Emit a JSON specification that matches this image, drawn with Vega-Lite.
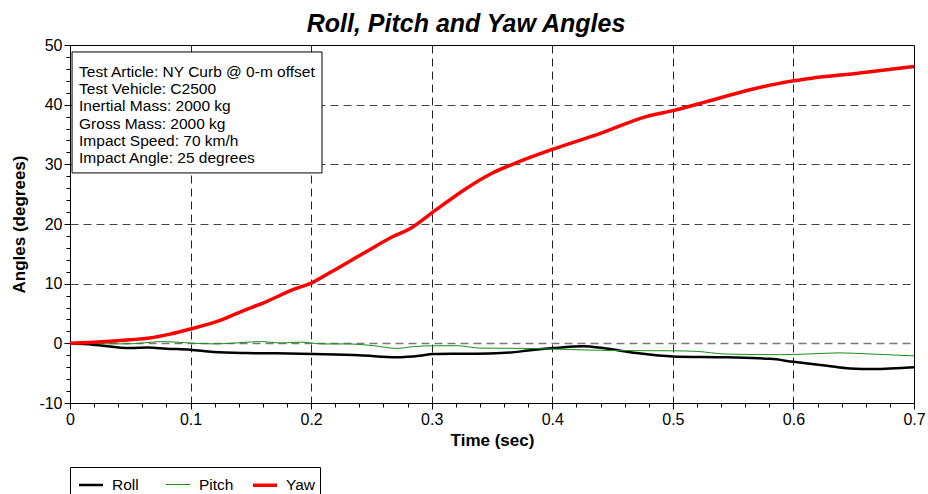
{
  "$schema": "https://vega.github.io/schema/vega-lite/v6.json",
  "autosize": {"type": "none"},
  "width": 844,
  "height": 358,
  "padding": {"left": 70, "top": 45, "right": 14, "bottom": 91},
  "background": "white",
  "title": {"text": "Roll, Pitch and Yaw Angles", "font": "Liberation Sans", "fontSize": 25, "fontWeight": "bold", "fontStyle": "italic", "color": "black", "offset": 0, "dx": -26},
  "config": {
    "view": {"stroke": "black", "strokeWidth": 1},
    "axis": {"domainColor": "black", "tickColor": "black", "labelColor": "black", "titleColor": "black", "labelFont": "Liberation Sans", "titleFont": "Liberation Sans", "labelFontSize": 16, "titleFontSize": 17, "titleFontWeight": "bold", "labelOverlap": false},
    "legend": {"labelFont": "Liberation Sans"}
  },
  "datasets": {
    "angles": [
      {"t": 0, "v": 0, "series": "Roll"},
      {"t": 0.019, "v": -0.23, "series": "Roll"},
      {"t": 0.05, "v": -0.8, "series": "Roll"},
      {"t": 0.065, "v": -0.7, "series": "Roll"},
      {"t": 0.08, "v": -0.9, "series": "Roll"},
      {"t": 0.1, "v": -1.07, "series": "Roll"},
      {"t": 0.119, "v": -1.46, "series": "Roll"},
      {"t": 0.146, "v": -1.63, "series": "Roll"},
      {"t": 0.171, "v": -1.68, "series": "Roll"},
      {"t": 0.202, "v": -1.8, "series": "Roll"},
      {"t": 0.24, "v": -2.0, "series": "Roll"},
      {"t": 0.271, "v": -2.35, "series": "Roll"},
      {"t": 0.29, "v": -2.1, "series": "Roll"},
      {"t": 0.301, "v": -1.8, "series": "Roll"},
      {"t": 0.323, "v": -1.75, "series": "Roll"},
      {"t": 0.348, "v": -1.7, "series": "Roll"},
      {"t": 0.365, "v": -1.55, "series": "Roll"},
      {"t": 0.38, "v": -1.2, "series": "Roll"},
      {"t": 0.401, "v": -0.8, "series": "Roll"},
      {"t": 0.426, "v": -0.5, "series": "Roll"},
      {"t": 0.442, "v": -0.8, "series": "Roll"},
      {"t": 0.47, "v": -1.63, "series": "Roll"},
      {"t": 0.5, "v": -2.2, "series": "Roll"},
      {"t": 0.544, "v": -2.35, "series": "Roll"},
      {"t": 0.581, "v": -2.6, "series": "Roll"},
      {"t": 0.6, "v": -3.1, "series": "Roll"},
      {"t": 0.628, "v": -3.75, "series": "Roll"},
      {"t": 0.647, "v": -4.2, "series": "Roll"},
      {"t": 0.666, "v": -4.3, "series": "Roll"},
      {"t": 0.7, "v": -4.0, "series": "Roll"},
      {"t": 0, "v": 0, "series": "Pitch"},
      {"t": 0.047, "v": -0.1, "series": "Pitch"},
      {"t": 0.077, "v": 0.3, "series": "Pitch"},
      {"t": 0.0995, "v": 0.05, "series": "Pitch"},
      {"t": 0.122, "v": -0.1, "series": "Pitch"},
      {"t": 0.14, "v": 0.1, "series": "Pitch"},
      {"t": 0.159, "v": 0.3, "series": "Pitch"},
      {"t": 0.174, "v": 0.05, "series": "Pitch"},
      {"t": 0.191, "v": 0.2, "series": "Pitch"},
      {"t": 0.21, "v": -0.1, "series": "Pitch"},
      {"t": 0.229, "v": -0.1, "series": "Pitch"},
      {"t": 0.252, "v": -0.4, "series": "Pitch"},
      {"t": 0.271, "v": -0.85, "series": "Pitch"},
      {"t": 0.285, "v": -0.55, "series": "Pitch"},
      {"t": 0.304, "v": -0.4, "series": "Pitch"},
      {"t": 0.321, "v": -0.4, "series": "Pitch"},
      {"t": 0.34, "v": -0.8, "series": "Pitch"},
      {"t": 0.379, "v": -0.85, "series": "Pitch"},
      {"t": 0.401, "v": -0.95, "series": "Pitch"},
      {"t": 0.448, "v": -1.2, "series": "Pitch"},
      {"t": 0.5, "v": -1.25, "series": "Pitch"},
      {"t": 0.52, "v": -1.35, "series": "Pitch"},
      {"t": 0.544, "v": -1.8, "series": "Pitch"},
      {"t": 0.589, "v": -1.9, "series": "Pitch"},
      {"t": 0.611, "v": -1.8, "series": "Pitch"},
      {"t": 0.638, "v": -1.6, "series": "Pitch"},
      {"t": 0.66, "v": -1.75, "series": "Pitch"},
      {"t": 0.7, "v": -2.1, "series": "Pitch"},
      {"t": 0, "v": 0, "series": "Yaw"},
      {"t": 0.02, "v": 0.2, "series": "Yaw"},
      {"t": 0.05, "v": 0.6, "series": "Yaw"},
      {"t": 0.066, "v": 0.9, "series": "Yaw"},
      {"t": 0.083, "v": 1.55, "series": "Yaw"},
      {"t": 0.1, "v": 2.4, "series": "Yaw"},
      {"t": 0.124, "v": 3.8, "series": "Yaw"},
      {"t": 0.144, "v": 5.5, "series": "Yaw"},
      {"t": 0.163, "v": 7.0, "series": "Yaw"},
      {"t": 0.185, "v": 9.0, "series": "Yaw"},
      {"t": 0.2, "v": 10.1, "series": "Yaw"},
      {"t": 0.216, "v": 11.9, "series": "Yaw"},
      {"t": 0.246, "v": 15.4, "series": "Yaw"},
      {"t": 0.268, "v": 17.9, "series": "Yaw"},
      {"t": 0.282, "v": 19.2, "series": "Yaw"},
      {"t": 0.301, "v": 22.0, "series": "Yaw"},
      {"t": 0.329, "v": 26.0, "series": "Yaw"},
      {"t": 0.35, "v": 28.5, "series": "Yaw"},
      {"t": 0.373, "v": 30.5, "series": "Yaw"},
      {"t": 0.4, "v": 32.5, "series": "Yaw"},
      {"t": 0.44, "v": 35.2, "series": "Yaw"},
      {"t": 0.478, "v": 38.0, "series": "Yaw"},
      {"t": 0.5, "v": 39.0, "series": "Yaw"},
      {"t": 0.528, "v": 40.5, "series": "Yaw"},
      {"t": 0.564, "v": 42.5, "series": "Yaw"},
      {"t": 0.597, "v": 43.9, "series": "Yaw"},
      {"t": 0.614, "v": 44.4, "series": "Yaw"},
      {"t": 0.655, "v": 45.3, "series": "Yaw"},
      {"t": 0.7, "v": 46.4, "series": "Yaw"}
    ],
    "box": [
      {"x": 0.0017, "x2": 0.209, "y": 48.83, "y2": 28.56}
    ],
    "notes": [
      {"x": 0.0075, "y": 45.54, "label": "Test Article: NY Curb @ 0-m offset"},
      {"x": 0.0075, "y": 42.6, "label": "Test Vehicle: C2500"},
      {"x": 0.0075, "y": 39.7, "label": "Inertial Mass: 2000 kg"},
      {"x": 0.0075, "y": 36.78, "label": "Gross Mass: 2000 kg"},
      {"x": 0.0075, "y": 33.99, "label": "Impact Speed: 70 km/h"},
      {"x": 0.0075, "y": 31.14, "label": "Impact Angle: 25 degrees"}
    ]
  },
  "layer": [
    {
      "data": {"name": "angles"},
      "mark": {"type": "line", "interpolate": "monotone", "clip": true},
      "encoding": {
        "x": {
          "field": "t", "type": "quantitative",
          "scale": {"domain": [0, 0.7], "nice": false, "zero": false},
          "axis": {
            "title": "Time (sec)",
            "titlePadding": 5,
            "tickCount": 100,
            "values": [0,0.02,0.04,0.06,0.08,0.1,0.12,0.14,0.16,0.18,0.2,0.22,0.24,0.26,0.28,0.3,0.32,0.34,0.36,0.38,0.4,0.42,0.44,0.46,0.48,0.5,0.52,0.54,0.56,0.58,0.6,0.62,0.64,0.66,0.68,0.7],
            "labelExpr": "abs(datum.value*10-round(datum.value*10))<1e-6 ? format(datum.value,'~g') : ''",
            "labelPadding": 2,
            "labelFlush": false,
            "labelOverlap": false,
            "tickSize": {"condition": {"test": "abs(datum.value*10-round(datum.value*10))<1e-6", "value": 6}, "value": 4},
            "grid": true,
            "gridColor": "#222222",
            "gridDash": [8, 5],
            "gridWidth": 1,
            "gridOpacity": {"condition": {"test": "abs(datum.value*10-round(datum.value*10))<1e-6 && datum.value>0.001 && datum.value<0.699", "value": 1}, "value": 0}
          }
        },
        "y": {
          "field": "v", "type": "quantitative",
          "scale": {"domain": [-10, 50], "nice": false},
          "axis": {
            "title": "Angles (degrees)",
            "titlePadding": 10,
            "tickCount": 100,
            "values": [-10,-8,-6,-4,-2,0,2,4,6,8,10,12,14,16,18,20,22,24,26,28,30,32,34,36,38,40,42,44,46,48,50],
            "labelExpr": "datum.value % 10 == 0 ? toString(datum.value) : ''",
            "labelPadding": 2,
            "labelFlush": false,
            "labelOverlap": false,
            "tickSize": {"condition": {"test": "datum.value % 10 == 0", "value": 6}, "value": 4},
            "grid": true,
            "gridColor": {"condition": {"test": "datum.value == 0", "value": "#777777"}, "value": "#444444"},
            "gridWidth": {"condition": {"test": "datum.value == 0", "value": 1.6}, "value": 1},
            "gridDash": [8, 5],
            "gridOpacity": {"condition": {"test": "datum.value % 10 == 0 && datum.value > -10 && datum.value < 50", "value": 1}, "value": 0}
          }
        },
        "color": {
          "field": "series", "type": "nominal",
          "scale": {"domain": ["Roll", "Pitch", "Yaw"], "range": ["#000000", "#1a8c1a", "#ff0000"]},
          "legend": {
            "title": null,
            "orient": "none",
            "legendX": 0,
            "legendY": 422,
            "direction": "horizontal",
            "columns": 3,
            "gridAlign": "all",
            "strokeColor": "black",
            "fillColor": "white",
            "padding": 4,
            "symbolType": "stroke",
            "symbolSize": 576,
            "symbolOffset": 3,
            "labelFontSize": 15.5,
            "labelColor": "black",
            "labelOffset": 7,
            "columnPadding": 12
          }
        },
        "strokeWidth": {
          "field": "series", "type": "nominal",
          "scale": {"type": "ordinal", "domain": ["Roll", "Pitch", "Yaw"], "range": [2.5, 1, 3.5]}
        },
        "order": {"field": "t", "type": "quantitative"}
      }
    },
    {
      "data": {"name": "box"},
      "mark": {"type": "rect", "fill": "white", "stroke": "black", "strokeWidth": 1},
      "encoding": {
        "x": {"field": "x", "type": "quantitative"},
        "x2": {"field": "x2"},
        "y": {"field": "y", "type": "quantitative"},
        "y2": {"field": "y2"}
      }
    },
    {
      "data": {"name": "notes"},
      "mark": {"type": "text", "align": "left", "baseline": "middle", "font": "Liberation Sans", "fontSize": 15.5, "color": "black"},
      "encoding": {
        "x": {"field": "x", "type": "quantitative"},
        "y": {"field": "y", "type": "quantitative"},
        "text": {"field": "label"}
      }
    }
  ]
}
